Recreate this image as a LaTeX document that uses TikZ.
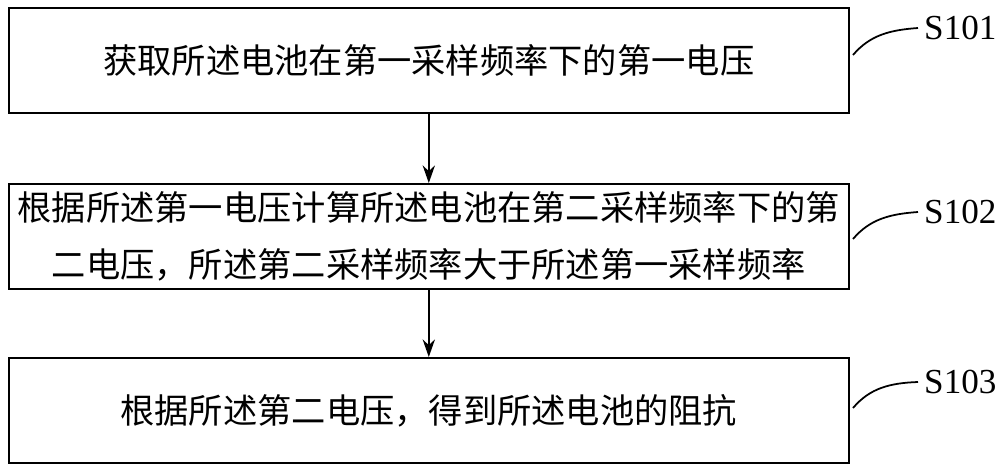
\documentclass[tikz,border=0pt]{standalone}
\usepackage{fontspec}
\usetikzlibrary{arrows.meta}
\newfontfamily\cjk{Noto Sans CJK SC}
\setmainfont{Liberation Serif}
\begin{document}
\begin{tikzpicture}[x=0.02cm,y=-0.02cm,
 box/.style={draw,line width=1pt,minimum width=16.8cm,minimum height=2.1cm,anchor=north west,inner sep=0pt,align=center,font=\cjk\fontsize{19.5}{32}\selectfont},
 lab/.style={font=\fontsize{20}{24}\selectfont,anchor=west},
 arr/.style={-{Stealth[length=10pt,width=7pt]},line width=1.1pt}]
\useasboundingbox (0,0) rectangle (1000,471);
\node[box] (b1) at (8,7) {获取所述电池在第一采样频率下的第一电压};
\node[box] (b2) at (8,183) {根据所述第一电压计算所述电池在第二采样频率下的第\\二电压，所述第二采样频率大于所述第一采样频率};
\node[box] (b3) at (8,357) {根据所述第二电压，得到所述电池的阻抗};
\draw[arr] (b1.south) -- (b2.north);
\draw[arr] (b2.south) -- (b3.north);
\node[lab] (l1) at (918,28) {S101};
\node[lab] (l2) at (918,212) {S102};
\node[lab] (l3) at (918,382) {S103};
\draw[line width=1pt] (853,55) .. controls (870,35) and (890,30) .. (l1.west);
\draw[line width=1pt] (853,239) .. controls (870,219) and (890,214) .. (l2.west);
\draw[line width=1pt] (853,408) .. controls (870,388) and (890,383) .. (l3.west);
\end{tikzpicture}
\end{document}
